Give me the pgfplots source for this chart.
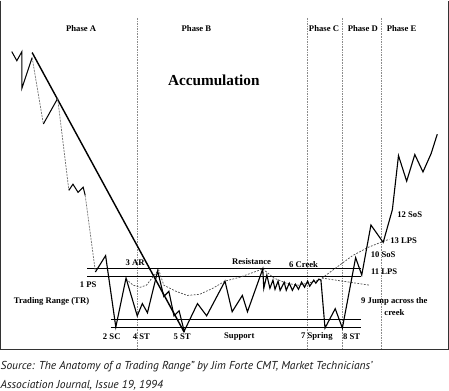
\documentclass[border=0pt]{standalone}
\usepackage{pgfplots}
\pgfplotsset{compat=1.18}
\usepackage{fontspec}
\setmainfont{Liberation Serif}
\newfontfamily\capfont{PT Sans}
\begin{document}
\begin{tikzpicture}
\begin{axis}[
  scale only axis, width=449bp, height=409bp,
  xmin=0, xmax=449, ymin=0, ymax=409, y dir=reverse,
  hide axis, clip=false,
  every axis plot/.append style={no marks},
]
% frame (open top)
\addplot[black!80, line width=1pt] coordinates {(5,13) (5,355) (444,355) (444,13)};
% phase dividers
\addplot[black!45, densely dotted, line width=0.6pt] coordinates {(139,30) (139,355)};
\addplot[black!45, densely dotted, line width=0.6pt] coordinates {(306,30) (306,355)};
\addplot[black!45, densely dotted, line width=0.6pt] coordinates {(340,30) (340,355)};
\addplot[black!45, densely dotted, line width=0.6pt] coordinates {(378,30) (378,355)};
% resistance and support
\addplot[black, line width=0.9pt] coordinates {(90,276) (358,276)};
\addplot[black, line width=0.9pt] coordinates {(90,283) (358,283)};
\addplot[black, line width=0.9pt] coordinates {(113,326) (358,326)};
\addplot[black, line width=0.9pt] coordinates {(113,333) (358,333)};
% trend line
\addplot[black, line width=1.4pt] coordinates {(36,64) (185,338)};
% dotted guide lines
\addplot[black!70, dash pattern=on 1.8pt off 1.4pt, line width=0.7pt] coordinates {
 (128,286) (135,292) (142,294) (148,292) (155,283) (160,277) (165,292) (177,298)
 (188,302) (200,301) (213,295) (225,288) (240,284) (262,276)};
\addplot[black!70, dash pattern=on 1.8pt off 1.4pt, line width=0.7pt] coordinates {
 (262,276) (273,285) (285,290) (297,292) (310,289) (320,286)};
\addplot[black!70, dash pattern=on 1.8pt off 1.4pt, line width=0.7pt] coordinates {
 (320,285) (335,274) (350,263) (365,255) (380,249) (386,247)};
\addplot[black!70, dash pattern=on 1.8pt off 1.4pt, line width=0.7pt] coordinates {
 (320,285) (367,292)};
% price path, phase A
\addplot[black, line width=1pt] coordinates {(16,63) (21,72) (26,63) (26,99) (36,69)};
\addplot[black!55, dash pattern=on 2pt off 1pt, line width=0.7pt] coordinates {(36,69) (47,134)};
\addplot[black, line width=1pt] coordinates {(47,134) (61,109)};
\addplot[black!55, dash pattern=on 2pt off 1pt, line width=0.7pt] coordinates {(61,109) (72,199)};
\addplot[black, line width=1pt] coordinates {(72,199) (76,193) (81,201) (86,196) (88,204)};
\addplot[black!55, dash pattern=on 2pt off 1pt, line width=0.7pt] coordinates {(88,204) (98,279)};
% price path, main
\addplot[black, line width=1.1pt] coordinates {
 (98,279) (108,263) (118,333) (128,285) (139,322) (144,310) (149,319) (159,278)
 (165,303) (170,298) (175,322) (180,317) (185,337) (198,310) (207,322) (225,288)
 (232,318) (242,302) (247,318) (262,276) (263,295) (266,282) (269,295) (272,287)
 (274,296) (277,288) (279,297) (283,289) (285,297) (288,290) (291,297) (294,291)
 (297,296) (300,289) (303,294) (306,288) (308,293) (312,287) (314,290) (317,286)
 (319,287) (323,334) (333,315) (340,334) (353,265) (359,282) (368,233) (380,250)
 (389,218) (395,165) (403,190) (411,164) (419,181) (427,163) (433,144)};
% labels
\tikzset{lab/.style={font=\fontsize{8.5}{9}\selectfont\bfseries, inner sep=0pt}}
\node[lab] at (axis cs:84,40) {Phase A};
\node[lab] at (axis cs:197,40) {Phase B};
\node[lab] at (axis cs:322,40) {Phase C};
\node[lab] at (axis cs:360,40) {Phase D};
\node[lab] at (axis cs:398,40) {Phase E};
\node[font=\fontsize{15}{16}\selectfont\bfseries, inner sep=0pt] at (axis cs:214,91) {Accumulation};
\node[lab] at (axis cs:137,270) {3 AR};
\node[lab] at (axis cs:91,291) {1 PS};
\node[lab] at (axis cs:55,308) {Trading Range (TR)};
\node[lab] at (axis cs:114,342) {2 SC};
\node[lab] at (axis cs:143,342) {4 ST};
\node[lab] at (axis cs:183,342) {5 ST};
\node[lab] at (axis cs:239,342) {Support};
\node[lab] at (axis cs:251,269) {Resistance};
\node[lab] at (axis cs:302,272) {6 Creek};
\node[lab] at (axis cs:315,342) {7 Spring};
\node[lab] at (axis cs:349,342) {8 ST};
\node[lab] at (axis cs:391,308) {9 Jump across the};
\node[lab] at (axis cs:391,319) {creek};
\node[lab] at (axis cs:380,262) {10 SoS};
\node[lab] at (axis cs:381,279) {11 LPS};
\node[lab] at (axis cs:406,223) {12 SoS};
\node[lab] at (axis cs:400,248) {13 LPS};
% caption
\node[anchor=west, inner sep=0pt, text=black!90, font=\capfont\itshape\fontsize{11.3}{12}\selectfont] at (axis cs:5,372) {Source: The Anatomy of a Trading Range” by Jim Forte CMT, Market Technicians’};
\node[anchor=west, inner sep=0pt, text=black!90, font=\capfont\itshape\fontsize{11.3}{12}\selectfont] at (axis cs:5,390) {Association Journal, Issue 19, 1994};
\end{axis}
\end{tikzpicture}
\end{document}
